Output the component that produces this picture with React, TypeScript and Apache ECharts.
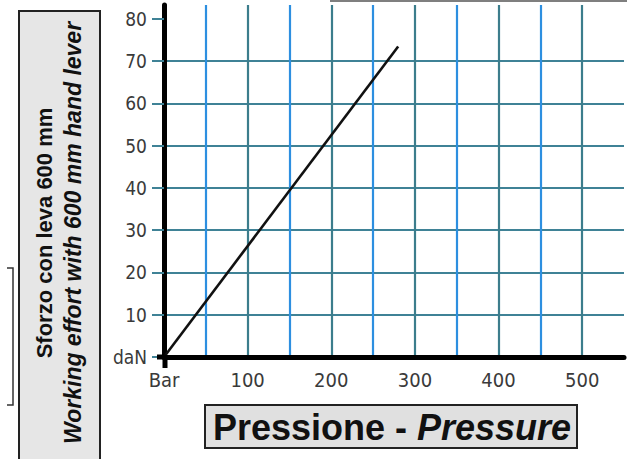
import React, { useEffect, useRef } from "react";
import * as echarts from "echarts";

// Data
const pressure = [0, 280]; // Bar
const effort = [0, 73.5]; // daN
const yTickValues = [0, 10, 20, 30, 40, 50, 60, 70, 80];
const xLabelValues = [0, 100, 200, 300, 400, 500];
const xZeroLabel = "Bar";
const yZeroLabel = "daN";
const yTitleLine1 = "Sforzo con leva 600 mm";
const yTitleLine2 = "Working effort with 600 mm hand lever";
const xTitleA = "Pressione - ";
const xTitleB = "Pressure";

const LABEL_FONT = "'DejaVu Sans Condensed', 'Liberation Sans Narrow', sans-serif";
const TITLE_FONT = "'Liberation Sans', Arial, sans-serif";

export default function App() {
  const ref = useRef<HTMLDivElement>(null);

  useEffect(() => {
    if (!ref.current) return;
    const chart = echarts.init(ref.current, undefined, { renderer: "svg" });
    const data = pressure.map((p, i) => [p, effort[i]]);
    chart.setOption({
      animation: false,
      backgroundColor: "#ffffff",
      grid: { left: 164, top: 5, width: 464, height: 352 },
      xAxis: {
        type: "value",
        min: 0,
        max: 550,
        interval: 50,
        axisLine: { show: true, lineStyle: { color: "#000", width: 5 } },
        axisTick: {
          show: true,
          inside: false,
          length: 10,
          lineStyle: { color: ["#3c7d8c", "#2d8fe0"], width: 2 },
        },
        axisLabel: {
          margin: 13,
          fontFamily: LABEL_FONT,
          fontSize: 20,
          color: "#3a3a3a",
          formatter: (v: number) => (v === 0 ? xZeroLabel : xLabelValues.indexOf(v) >= 0 ? String(v) : ""),
        },
        splitLine: {
          show: true,
          showMinLine: false,
          showMaxLine: false,
          lineStyle: { color: ["#2d8fe0", "#3c7d8c"], width: 2.2 },
        },
      },
      yAxis: {
        type: "value",
        min: 0,
        max: 83.3,
        interval: 10,
        axisLine: { show: true, lineStyle: { color: "#000", width: 5 } },
        axisTick: {
          show: true,
          length: 12,
          customValues: yTickValues,
          lineStyle: { color: "#3f8296", width: 2 },
        },
        axisLabel: {
          customValues: yTickValues,
          margin: 17,
          fontFamily: LABEL_FONT,
          fontSize: 19,
          color: "#3a3a3a",
          formatter: (v: number) => (v === 0 ? yZeroLabel : yTickValues.indexOf(v) >= 0 ? String(v) : ""),
        },
        splitLine: {
          show: true,
          showMinLine: false,
          showMaxLine: false,
          lineStyle: { color: "#3f8296", width: 2.2 },
        },
      },
      series: [
        {
          type: "line",
          data,
          symbol: "none",
          lineStyle: { color: "#111", width: 2.6 },
          z: 5,
        },
      ],
      graphic: [
        { type: "line", shape: { x1: 165, y1: 355, x2: 165, y2: 368 }, style: { stroke: "#000", lineWidth: 5 }, z: 10 },
        { type: "line", shape: { x1: 157, y1: 357, x2: 166, y2: 357 }, style: { stroke: "#000", lineWidth: 5 }, z: 10 },
        { type: "line", shape: { x1: 330, y1: 1, x2: 627, y2: 1 }, style: { stroke: "#555", lineWidth: 1.5 }, z: 10 },
        {
          type: "polyline",
          shape: { points: [[7, 268], [13, 268], [13, 405], [7, 405]] },
          style: { stroke: "#333", lineWidth: 1.5, fill: "none" },
          z: 10,
        },
        {
          type: "rect",
          shape: { x: 19, y: 11, width: 81, height: 460 },
          style: { fill: "#e6e6e6", stroke: "#222", lineWidth: 2 },
          z: 10,
        },
        {
          type: "text",
          x: 44,
          y: 233,
          rotation: Math.PI / 2,
          style: {
            text: yTitleLine1,
            font: `bold 22px ${TITLE_FONT}`,
            fill: "#111",
            align: "center",
            verticalAlign: "middle",
            textAlign: "center",
            textVerticalAlign: "middle",
          },
          z: 11,
        },
        {
          type: "text",
          x: 73,
          y: 233,
          rotation: Math.PI / 2,
          style: {
            text: yTitleLine2,
            font: `italic bold 23px ${TITLE_FONT}`,
            fill: "#111",
            align: "center",
            verticalAlign: "middle",
            textAlign: "center",
            textVerticalAlign: "middle",
          },
          z: 11,
        },
        {
          type: "rect",
          shape: { x: 205, y: 405, width: 372, height: 43 },
          style: { fill: "#e0e0e0", stroke: "#222", lineWidth: 2 },
          z: 10,
        },
        {
          type: "text",
          x: 392,
          y: 427,
          style: {
            text: `{a|${xTitleA}}{b|${xTitleB}}`,
            rich: {
              a: { font: `bold 36px ${TITLE_FONT}`, fill: "#111", color: "#111" },
              b: { font: `italic bold 36px ${TITLE_FONT}`, fill: "#111", color: "#111" },
            },
            align: "center",
            verticalAlign: "middle",
            textAlign: "center",
            textVerticalAlign: "middle",
          },
          z: 11,
        },
      ],
    });
    return () => chart.dispose();
  }, []);

  return (
    <div
      ref={ref}
      style={{ position: "fixed", left: 0, top: 0, width: 627, height: 459, background: "#fff" }}
    />
  );
}
